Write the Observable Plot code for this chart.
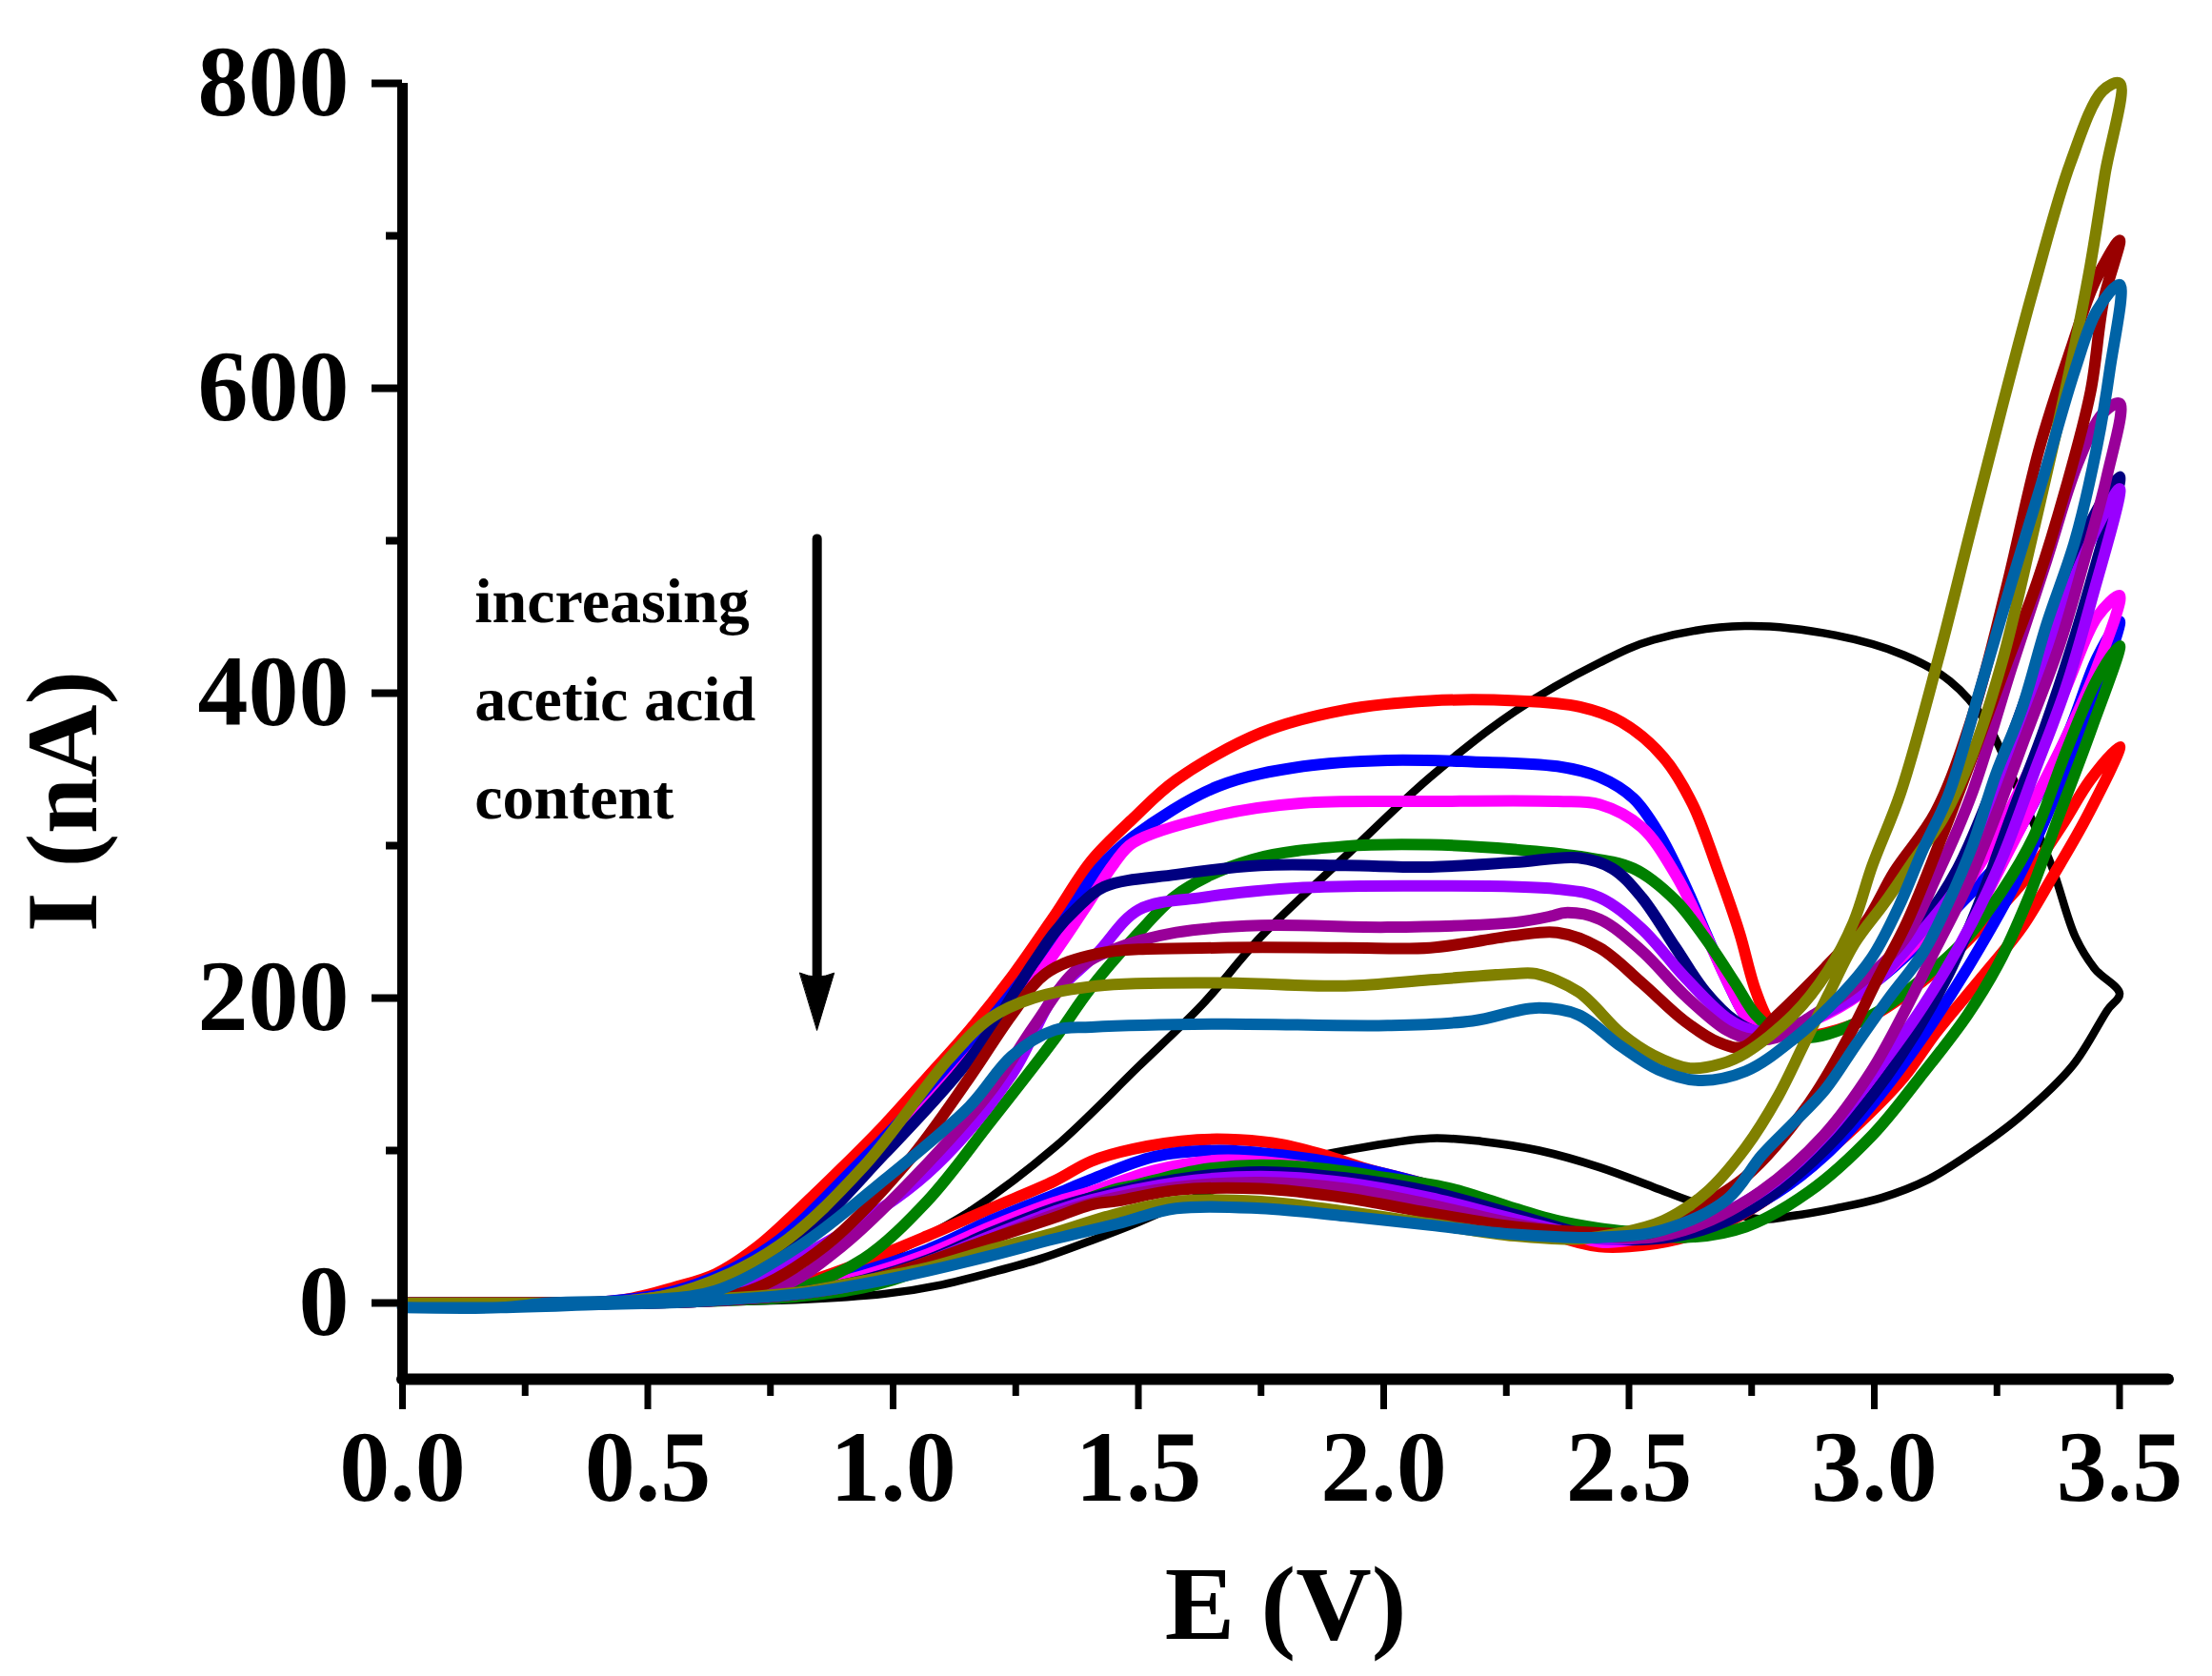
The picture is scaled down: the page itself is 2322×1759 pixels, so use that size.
<!DOCTYPE html>
<html>
<head>
<meta charset="utf-8">
<script src="https://cdn.jsdelivr.net/npm/d3@7"></script>
<script src="https://cdn.jsdelivr.net/npm/@observablehq/plot@0.6"></script>
<style>
  body { margin: 0; background: #fff; }
</style>
</head>
<body>
<div id="chart"></div>
<script>
// tick values
const xMajor = [0, 0.5, 1, 1.5, 2, 2.5, 3, 3.5]
const xMinor = [0.25, 0.75, 1.25, 1.75, 2.25, 2.75, 3.25]
const yMajor = [0, 200, 400, 600, 800]
const yMinor = [100, 300, 500, 700]

// one voltammogram per series: forward scan 0 -> 3.5 V, then back to 0 V  [E (V), I (nA)]
const cvBlack = [
  [0,0],[0.3,0],[0.5,1],[0.65,3],[0.8,10],[0.9,18],[1.027,37],[1.156,60],[1.329,102],[1.5,155],
  [1.631,196],[1.749,240],[1.922,293],[2.095,345],[2.267,388],[2.44,420],[2.55,435],[2.736,444],
  [2.92,438],[3.06,425],[3.154,408],[3.228,381],[3.29,339],[3.36,288],[3.41,240],[3.45,219],[3.5,203],
  [3.475,192],[3.405,156],[3.3,123],[3.2,99],[3.11,81],[3.015,69],[2.92,62],[2.83,57],[2.77,55],
  [2.643,65],[2.55,76],[2.44,89],[2.317,100],[2.2,106],[2.095,108],[1.922,100],[1.835,94],[1.7,80],
  [1.6,67],[1.5,53],[1.404,41],[1.3,29],[1.2,20],[1.1,12],[0.983,6],[0.8,2],[0.5,0],[0,0]
]
const cvRed = [
  [0,0],[0.35,0],[0.45,2],[0.552,10],[0.638,19],[0.724,37],[0.81,62],[0.897,89],[0.983,117],[1.07,148],
  [1.156,179],[1.242,214],[1.329,254],[1.404,290],[1.49,318],[1.577,343],[1.75,374],[1.92,389],[2.095,395],
  [2.27,395],[2.4,391],[2.485,381],[2.57,358],[2.63,327],[2.68,285],[2.725,243],[2.758,205],[2.79,183],
  [2.83,175],[2.9,177],[3.0,189],[3.125,218],[3.222,248],[3.3,275],[3.38,312],[3.44,343],[3.5,365],
  [3.435,320],[3.364,280],[3.3,246],[3.22,214],[3.125,177],[3.06,148],[2.96,115],[2.87,90],[2.78,68],
  [2.7,53],[2.6,42],[2.5,37],[2.44,37],[2.354,44],[2.267,58],[2.095,77],[1.965,88],[1.879,97],[1.792,104],
  [1.706,107],[1.62,107],[1.49,101],[1.404,93],[1.329,80],[1.199,62],[1.07,44],[0.94,27],[0.81,12.5],
  [0.68,4],[0.5,1],[0,0]
]
const cvBlue = [
  [0,0],[0.4,0.5],[0.578,10],[0.75,37],[0.923,89],[1.096,148],[1.268,214],[1.355,254],[1.42,285],[1.49,306],
  [1.663,339],[1.836,352],[2.008,356],[2.18,355],[2.354,352],[2.44,345],[2.509,331],[2.561,308],[2.613,275],
  [2.656,243],[2.699,212],[2.742,186],[2.78,176],[2.83,178],[2.9,190],[3.0,210],[3.1,238],[3.2,270],
  [3.261,292],[3.325,328],[3.397,375],[3.454,423],[3.5,447],
  [3.441,389],[3.377,339],[3.3,283],[3.2,225],[3.1,175],[3.0,132],[2.9,97],[2.8,72],[2.7,56],[2.6,48],
  [2.5,43],[2.44,45],[2.267,60],[2.095,77],[1.922,90.5],[1.792,97],[1.663,100],[1.533,96],[1.404,81],
  [1.329,71],[1.199,54],[1.07,35],[0.94,21],[0.81,10],[0.65,3],[0.4,0],[0,0]
]
const cvMagenta = [
  [0,0],[0.45,1],[0.603,10],[0.776,37],[0.949,89],[1.121,148],[1.294,214],[1.389,258],[1.45,288],[1.49,302],
  [1.663,320],[1.836,328],[2.095,329],[2.354,329],[2.44,327],[2.526,312],[2.595,281],[2.647,248],[2.699,212],
  [2.742,186],[2.78,176],[2.85,182],[2.95,198],[3.028,218],[3.125,250],[3.2,280],[3.248,306],[3.312,347],
  [3.39,403],[3.454,450],[3.5,464],
  [3.454,417],[3.397,375],[3.332,333],[3.267,292],[3.2,250],[3.1,190],[3.0,140],[2.9,102],[2.8,75],[2.7,57],
  [2.6,46],[2.5,41],[2.44,40],[2.267,58],[2.095,75],[1.922,85],[1.792,91.5],[1.663,93.6],[1.533,87],
  [1.404,73],[1.329,66],[1.199,50],[1.07,32],[0.94,18],[0.81,8],[0.6,2],[0.4,0],[0,0]
]
const cvGreen = [
  [0,0],[0.6,1],[0.7,4],[0.81,10],[0.94,29],[1.07,67],[1.199,119],[1.329,173],[1.404,207],[1.501,243],
  [1.588,270],[1.733,291],[1.922,299.6],[2.095,300.6],[2.267,297.5],[2.397,293],[2.509,285],[2.595,264],
  [2.656,239],[2.716,210],[2.758,189],[2.8,178],[2.867,174],[2.996,189],[3.125,220],[3.19,240],[3.26,270],
  [3.325,306],[3.39,361],[3.454,409],[3.5,431],
  [3.441,375],[3.377,320],[3.312,264],[3.254,223],[3.19,189],[3.093,148],[2.996,110],[2.867,73],[2.738,50],
  [2.613,43],[2.526,46],[2.44,49],[2.354,54],[2.267,62],[2.138,75],[2.008,82],[1.879,88],[1.749,90.5],
  [1.62,87],[1.49,77],[1.458,75],[1.329,60],[1.199,42],[1.07,23],[0.94,10],[0.8,4],[0.6,1],[0,0]
]
const cvNavy = [
  [0,0],[0.45,1],[0.62,10],[0.793,37.5],[0.983,98],[1.156,160],[1.286,223],[1.329,243],[1.372,258],[1.43,273],
  [1.577,281],[1.749,287],[1.922,287],[2.095,286],[2.267,289],[2.397,292],[2.466,285],[2.526,266],[2.595,233],
  [2.656,204],[2.716,185],[2.76,178],[2.82,180],[2.9,192],[3.0,215],[3.1,250],[3.17,285],[3.235,333],
  [3.3,389],[3.377,459],[3.441,512],[3.5,542],
  [3.454,487],[3.403,431],[3.345,375],[3.28,320],[3.216,264],[3.15,215],[3.05,160],[2.95,118],[2.85,86],
  [2.75,62],[2.65,48],[2.55,42],[2.44,43],[2.267,58],[2.095,73],[1.922,82],[1.749,86],[1.577,81],[1.404,69],
  [1.329,62],[1.199,46],[1.07,28],[0.94,15],[0.81,7],[0.6,1],[0,0]
]
const cvViolet = [
  [0,0],[0.5,1],[0.68,10],[0.85,37],[1.07,85],[1.242,150],[1.329,202],[1.415,229],[1.501,258],[1.631,266],
  [1.733,270],[1.836,272.5],[2.095,273.6],[2.354,271.5],[2.44,266],[2.526,245.5],[2.613,214],[2.699,187],
  [2.75,179],[2.8,178],[2.9,190],[3.0,210],[3.1,245],[3.183,280],[3.248,333],[3.312,389],[3.377,450],
  [3.441,500],[3.5,534],
  [3.441,459],[3.39,403],[3.325,347],[3.261,292],[3.2,250],[3.1,195],[3.0,150],[2.9,110],[2.8,80],[2.7,60],
  [2.6,47],[2.5,42],[2.44,42],[2.267,55],[2.095,69],[1.922,79],[1.749,83],[1.577,79],[1.404,67.6],[1.329,60],
  [1.199,44],[1.07,27],[0.94,14],[0.81,6],[0.6,1],[0,0]
]
const cvPurple = [
  [0,0],[0.5,1],[0.62,4],[0.767,10],[0.897,37.5],[1.07,91.5],[1.199,139],[1.286,181],[1.372,218],[1.45,232],
  [1.577,243],[1.749,247.6],[2.008,246.5],[2.267,249.6],[2.345,254],[2.37,256],[2.44,251.7],[2.526,231],
  [2.613,202],[2.699,179],[2.75,173],[2.8,174],[2.867,187],[2.964,208],[3.06,238],[3.13,282],[3.2,335],
  [3.28,417],[3.351,487],[3.415,551],[3.467,584],[3.5,590],
  [3.474,542],[3.428,487],[3.377,431],[3.312,375],[3.248,320],[3.187,272],[3.123,231],[3.058,189],[2.994,152],
  [2.897,110],[2.768,73],[2.65,52],[2.545,43],[2.44,44],[2.267,52],[2.095,64.5],[1.922,75],[1.749,79],
  [1.577,76],[1.404,65.5],[1.329,58],[1.199,42],[1.07,26],[0.94,13],[0.81,6],[0.6,1],[0,0]
]
const cvDarkRed = [
  [0,0],[0.5,1],[0.6,3],[0.707,8],[0.862,37.5],[1.027,91.5],[1.156,148],[1.242,189],[1.311,216],[1.415,229],
  [1.663,233],[1.922,233],[2.095,233],[2.267,241],[2.354,243],[2.44,233],[2.526,210],[2.613,185],[2.682,171],
  [2.733,168],[2.8,188],[2.9,220],[2.983,250],[3.041,283],[3.125,322],[3.2,385],[3.27,470],[3.336,560],
  [3.4,625],[3.45,670],[3.5,697],
  [3.467,657],[3.441,598],[3.39,534],[3.332,473],[3.267,417],[3.203,361],[3.138,306],[3.067,250],[3.009,214],
  [2.945,173],[2.867,131],[2.738,83],[2.6,55],[2.545,46],[2.44,46],[2.267,50],[2.095,59],[1.922,69],[1.749,75],
  [1.577,74],[1.458,67],[1.404,64.5],[1.329,56],[1.199,42],[1.07,27],[0.94,14],[0.81,6],[0.6,1],[0,0]
]
const cvOlive = [
  [0,0],[0.45,1],[0.595,10],[0.767,37.5],[0.94,89.5],[1.113,160],[1.199,187],[1.286,200],[1.415,208],[1.663,210],
  [1.922,208],[2.095,212],[2.267,216],[2.31,216],[2.397,204],[2.483,177],[2.55,162.5],[2.624,154],[2.689,157],
  [2.738,164],[2.835,189],[2.906,218],[2.958,250],[2.996,287],[3.054,335],[3.13,422],[3.195,505],[3.26,587],
  [3.325,666],[3.4,748],[3.465,795],[3.5,800],
  [3.47,740],[3.44,680],[3.41,630],[3.37,570],[3.32,500],[3.26,420],[3.2,360],[3.14,318],[3.08,290],[3.02,262],
  [2.96,236],[2.906,202],[2.854,168],[2.803,135],[2.738,102],[2.656,72],[2.57,54],[2.483,46],[2.397,42],
  [2.267,44],[2.095,52],[1.922,60],[1.749,66.6],[1.577,66.6],[1.45,58],[1.329,46],[1.199,35],[1.07,23],
  [0.94,14.6],[0.81,7],[0.6,2],[0.4,0],[0,0]
]
const cvSteel = [
  [0,-3],[0.2,-3],[0.3,0],[0.5,2],[0.638,8],[0.81,37.5],[0.983,81],[1.156,129],[1.242,162],[1.329,179],
  [1.404,181],[1.663,183],[2.008,182],[2.181,185],[2.31,193.5],[2.397,189],[2.483,168.5],[2.56,153],[2.642,146],
  [2.738,152],[2.835,173],[2.932,202],[2.996,227],[3.05,260],[3.1,298],[3.151,333],[3.216,403],[3.28,473],
  [3.345,542],[3.409,612],[3.454,651],[3.5,668],
  [3.48,612],[3.454,562],[3.409,500],[3.351,445],[3.3,389],[3.248,347],[3.2,300],[3.15,262],[3.1,230],[3.03,200],
  [2.964,170],[2.9,140],[2.835,118],[2.771,97],[2.7,68],[2.57,48],[2.44,43],[2.267,45],[2.095,51],[1.922,57],
  [1.749,62],[1.577,62],[1.458,52],[1.329,42],[1.199,31],[1.07,21],[0.94,12.5],[0.81,6],[0.6,1],[0.4,-1],
  [0.2,-3],[0,-3]
]

const seriesNames = ["black", "red", "blue", "magenta", "green", "navy", "violet", "purple", "dark red", "olive", "steel blue"]
const seriesData = [cvBlack, cvRed, cvBlue, cvMagenta, cvGreen, cvNavy, cvViolet, cvPurple, cvDarkRed, cvOlive, cvSteel]
const palette = ["#000000", "#ff0000", "#0000ff", "#ff00ff", "#008000", "#000080", "#9900ff", "#990099", "#990000", "#808000", "#0063a6"]

// annotation text and arrow
const noteLines = ["increasing", "acetic acid", "content"]
const note = [{E: 0.147, I: 318, text: noteLines.join("\n")}]
const arrow = [{E: 0.845, top: 501, tip: 179}]

// flatten into one table, keeping series order for drawing
const rows = []
seriesNames.forEach((name, k) => {
  for (const [E, I] of seriesData[k]) rows.push({series: name, E, I})
})

const serif = "'Liberation Serif', 'Times New Roman', serif"

// narrow filled arrow head for Plot.vector
const arrowHead = {
  draw(context, l) {
    context.moveTo(0, -l)
    context.lineTo(-18, 0)
    context.quadraticCurveTo(0, -8, 18, 0)
    context.closePath()
  }
}

const chart = Plot.plot({
  width: 2322,
  height: 1759,
  marginLeft: 422,
  marginRight: 46,
  marginTop: 87,
  marginBottom: 312,
  x: {domain: [0, 3.6], label: null},
  y: {domain: [-50, 800], label: null},
  color: {domain: seriesNames, range: palette},
  style: {fontFamily: serif, background: "white", color: "black"},
  marks: [
    // curves
    Plot.line(rows.filter(d => d.series === "black"), {
      x: "E", y: "I", z: "series", stroke: "series",
      strokeWidth: 8.5, curve: "catmull-rom", strokeLinejoin: "round", strokeLinecap: "round"
    }),
    Plot.line(rows.filter(d => d.series !== "black"), {
      x: "E", y: "I", z: "series", stroke: "series",
      strokeWidth: 12, curve: "catmull-rom", strokeLinejoin: "round", strokeLinecap: "round"
    }),

    // axes
    Plot.axisY({
      ticks: yMajor, tickSize: 32, tickPadding: 24, tickFormat: d => d,
      fontSize: 106, fontWeight: "bold", strokeWidth: 8, label: null
    }),
    Plot.axisY({ticks: yMinor, tickSize: 17, tickFormat: () => "", strokeWidth: 8, label: null}),
    Plot.axisX({
      ticks: xMajor, tickSize: 32, tickPadding: 20, tickFormat: d3.format(".1f"),
      fontSize: 106, fontWeight: "bold", strokeWidth: 7, label: null
    }),
    Plot.axisX({ticks: xMinor, tickSize: 18, tickFormat: () => "", strokeWidth: 7, label: null}),
    Plot.ruleX([0], {strokeWidth: 11}),
    Plot.ruleY([-50], {strokeWidth: 12, strokeLinecap: "round"}),

    // axis titles
    Plot.text(["E (V)"], {
      x: [1.8], y: [-220], text: d => d, lineAnchor: "bottom",
      fontSize: 110, fontWeight: "bold", fill: "black"
    }),
    Plot.text(["I (nA)"], {
      x: [-0.69], y: [329], text: d => d, rotate: -90, lineAnchor: "middle",
      fontSize: 106, fontWeight: "bold", fill: "black"
    }),

    // annotation
    Plot.text(note, {
      x: "E", y: "I", text: "text", textAnchor: "start", lineAnchor: "bottom",
      lineHeight: 1.56, fontSize: 66, fontWeight: "bold", fill: "black"
    }),
    Plot.ruleX(arrow, {x: "E", y1: "top", y2: d => d.tip + 25, strokeWidth: 10, strokeLinecap: "round"}),
    Plot.vector(arrow, {
      x: "E", y: "tip", length: 60, rotate: 180, anchor: "end", shape: arrowHead,
      fill: "black", stroke: "black", strokeWidth: 1
    })
  ]
})

d3.select("#chart").append(() => chart)
</script>
</body>
</html>
